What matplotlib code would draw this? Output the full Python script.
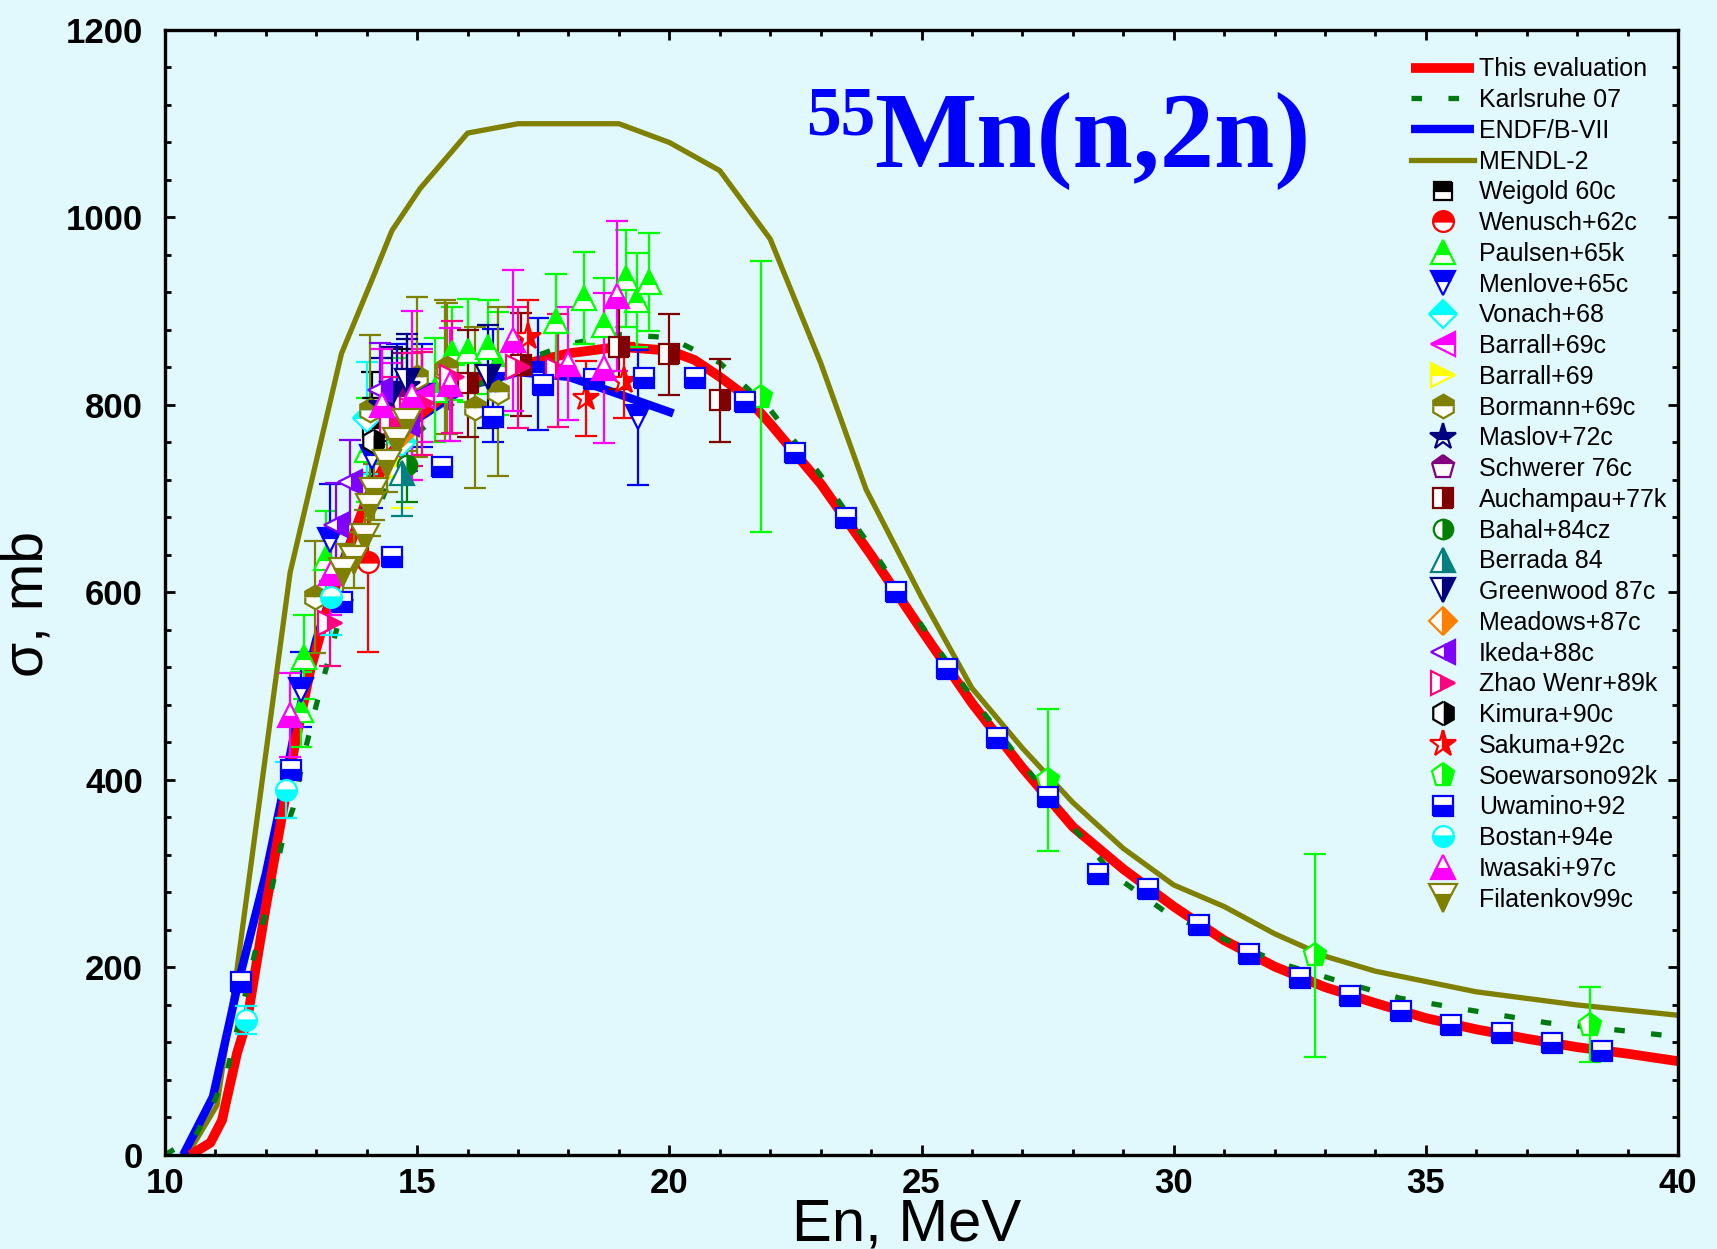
import numpy as np
from matplotlib import pyplot as plt
from matplotlib.ticker import MultipleLocator

plt.rcParams["font.family"] = ["Liberation Sans", "DejaVu Sans"]

BG = "#e1f9fc"

# evaluated curves
eval_E = [10.5, 10.9, 11.13, 11.43, 11.63, 12.0, 12.34, 12.58, 12.88, 13.2, 13.5, 14.0,
          14.5, 15.0, 15.5, 16.0, 17.0, 18.0, 19.0, 20.0, 20.5, 21.0, 21.5, 22.0, 23.0,
          24.0, 25.0, 26.0, 27.0, 28.0, 29.0, 30.0, 31.0, 32.0, 33.0, 34.0, 35.0, 36.0,
          37.0, 38.0, 39.0, 40.0]
eval_s = [0, 13, 37, 109, 144, 265, 368, 439, 517, 578, 625, 700,
          750, 787, 808, 825, 842, 855, 862, 858, 848, 830, 810, 780, 716,
          640, 560, 482, 413, 350, 305, 265, 229, 201, 179, 162, 146, 134,
          124, 115, 108, 100]

kit_E = [10.0, 10.6, 11.0, 11.23, 11.5, 11.77, 12.08, 12.34, 12.54, 12.78, 13.0, 13.5,
         14.0, 14.5, 15.0, 16.0, 17.0, 18.0, 19.0, 20.0, 21.0, 22.0, 23.0, 24.0, 25.0,
         26.0, 27.0, 28.0, 28.8, 29.87, 31.05, 32.2, 33.3, 34.5, 35.7, 37.4, 38.5, 40.0]
kit_s = [0, 20, 60, 89, 150, 213, 275, 338, 370, 432, 480, 580,
         660, 725, 770, 815, 845, 865, 875, 872, 845, 795, 725, 648, 565,
         488, 418, 350, 299, 258, 229, 203, 185, 167, 156, 141, 135, 126]

endf_E = [10.36, 10.95, 11.45, 12.0, 12.32, 12.6, 13.0, 13.5, 14.0, 14.5, 15.0, 16.0,
          17.0, 18.0, 18.76, 20.08]
endf_s = [0, 62, 183, 300, 382, 460, 550, 630, 700, 750, 785, 820,
          835, 830, 816, 791]

mendl_E = [10.44, 11.03, 11.39, 12.14, 12.48, 13.5, 14.1, 14.5, 15.06, 16.0, 17.0, 19.0,
           20.0, 21.0, 22.0, 23.0, 23.9, 25.0, 26.0, 27.0, 28.0, 29.0, 30.0, 31.0, 32.0,
           33.0, 34.0, 36.0, 38.0, 40.0]
mendl_s = [0, 53, 183, 485, 621, 855, 933, 986, 1031, 1090, 1100, 1100,
           1080, 1050, 977, 845, 710, 595, 498, 434, 376, 327, 288, 265, 236,
           212, 196, 174, 160, 149]

# experimental data
weigold_E = [14.1, 14.7]
weigold_s = [775, 800]
weigold_e = [60, 60]

wenusch_E = [14.02]
wenusch_s = [632]
wenusch_e = [95]

paulsen_E = [12.7, 12.75, 13.2, 14.0, 14.6, 15.35, 15.7, 16.0, 16.4, 16.6, 17.76, 18.3,
             18.7, 19.15, 19.35, 19.6]
paulsen_s = [475, 531, 637, 752, 790, 816, 855, 858, 862, 844, 890, 914, 885, 935, 912, 931]
paulsen_e = [40, 45, 50, 55, 60, 55, 50, 55, 50, 55, 50, 49, 50, 52, 50, 52]

menlove_E = [12.7, 13.27, 14.1, 14.6, 15.1, 16.5, 17.4, 19.38]
menlove_s = [496, 656, 745, 805, 810, 821, 833, 787]
menlove_e = [40, 60, 55, 60, 55, 60, 60, 72]

vonach_E = [14.0, 14.7]
vonach_s = [786, 760]
vonach_e = [60, 40]

barrall_c_E = [14.5, 15.1]
barrall_c_s = [795, 810]
barrall_c_e = [50, 50]

barrall_E = [14.7]
barrall_s = [735]
barrall_e = [45]

bormann_E = [12.97, 14.06, 15.0, 15.55, 15.6, 16.15, 16.6]
bormann_s = [595, 795, 830, 837, 839, 797, 814]
bormann_e = [60, 80, 85, 75, 70, 86, 90]

maslov_E = [14.3, 14.8]
maslov_s = [800, 820]
maslov_e = [50, 50]

schwerer_E = [14.7]
schwerer_s = [805]
schwerer_e = [50]

auchampau_E = [16.0, 17.05, 19.0, 20.0, 21.0]
auchampau_s = [823, 843, 862, 854, 805]
auchampau_e = [57, 55, 45, 43, 44]

bahal_E = [14.8]
bahal_s = [736]
bahal_e = [40]

berrada_E = [14.7]
berrada_s = [727]
berrada_e = [45]

greenwood_E = [14.5, 14.8, 16.4]
greenwood_s = [812, 826, 830]
greenwood_e = [50, 50, 55]

meadows_E = [14.7]
meadows_s = [770]
meadows_e = [40]

ikeda_E = [13.4, 13.66, 14.26, 14.8]
ikeda_s = [672, 718, 816, 780]
ikeda_e = [45, 45, 50, 50]

zhao_E = [13.27, 14.5, 14.9, 15.1, 15.7, 17.0, 17.8]
zhao_s = [567, 780, 795, 802, 830, 840, 837]
zhao_e = [45, 50, 60, 55, 60, 65, 60]

kimura_E = [14.13]
kimura_s = [762]
kimura_e = [45]

sakuma_E = [17.2, 18.35, 19.1]
sakuma_s = [872, 807, 826]
sakuma_e = [40, 40, 40]

soewarsono_E = [21.82, 27.5, 32.8, 38.26]
soewarsono_s = [809, 400, 213, 139]
soewarsono_e = [145, 76, 108, 40]

uwamino_E = [11.5, 12.5, 13.5, 14.5, 15.5, 16.5, 17.5, 18.5, 19.5, 20.5, 21.5, 22.5, 23.5,
             24.5, 25.5, 26.5, 27.5, 28.5, 29.5, 30.5, 31.5, 32.5, 33.5, 34.5, 35.5, 36.5,
             37.5, 38.5]
uwamino_s = [184, 411, 590, 638, 734, 787, 821, 828, 829, 829, 803, 749, 679,
             600, 518, 445, 382, 300, 284, 245, 214, 189, 170, 154, 139, 130,
             119, 111]

bostan_E = [11.6, 12.4, 13.3]
bostan_s = [144, 389, 595]
bostan_e = [15, 30, 40]

iwasaki_E = [12.47, 13.3, 14.3, 14.9, 15.65, 16.9, 18.0, 18.7, 18.96]
iwasaki_s = [469, 621, 800, 810, 822, 869, 844, 839, 916]
iwasaki_e = [45, 45, 60, 90, 60, 75, 60, 80, 80]

filatenkov_E = [13.52, 13.74, 13.96, 14.06, 14.15, 14.4, 14.6, 14.8]
filatenkov_s = [622, 635, 658, 690, 707, 737, 760, 781]
filatenkov_e = [30, 30, 30, 30, 30, 30, 30, 30]

# label, E, sigma, err, color, marker, fillstyle, size
datasets = [
    ("Weigold 60c", weigold_E, weigold_s, weigold_e, "black", "s", "top", 13),
    ("Wenusch+62c", wenusch_E, wenusch_s, wenusch_e, "red", "o", "top", 15),
    ("Paulsen+65k", paulsen_E, paulsen_s, paulsen_e, "#00ff00", "^", "top", 17),
    ("Menlove+65c", menlove_E, menlove_s, menlove_e, "blue", "v", "top", 17),
    ("Vonach+68", vonach_E, vonach_s, vonach_e, "cyan", "D", "top", 14),
    ("Barrall+69c", barrall_c_E, barrall_c_s, barrall_c_e, "magenta", "<", "top", 17),
    ("Barrall+69", barrall_E, barrall_s, barrall_e, "yellow", ">", "top", 17),
    ("Bormann+69c", bormann_E, bormann_s, bormann_e, "#808000", "h", "top", 17),
    ("Maslov+72c", maslov_E, maslov_s, maslov_e, "#000080", "*", "top", 20),
    ("Schwerer 76c", schwerer_E, schwerer_s, schwerer_e, "#800080", "p", "top", 17),
    ("Auchampau+77k", auchampau_E, auchampau_s, auchampau_e, "#800000", "s", "right", 15),
    ("Bahal+84cz", bahal_E, bahal_s, bahal_e, "#008000", "o", "right", 14),
    ("Berrada 84", berrada_E, berrada_s, berrada_e, "#008080", "^", "right", 17),
    ("Greenwood 87c", greenwood_E, greenwood_s, greenwood_e, "#000080", "v", "right", 17),
    ("Meadows+87c", meadows_E, meadows_s, meadows_e, "#ff8000", "D", "right", 14),
    ("Ikeda+88c", ikeda_E, ikeda_s, ikeda_e, "#8000ff", "<", "right", 17),
    ("Zhao Wenr+89k", zhao_E, zhao_s, zhao_e, "#ff0080", ">", "right", 17),
    ("Kimura+90c", kimura_E, kimura_s, kimura_e, "black", "h", "right", 17),
    ("Sakuma+92c", sakuma_E, sakuma_s, sakuma_e, "red", "*", "right", 20),
    ("Soewarsono92k", soewarsono_E, soewarsono_s, soewarsono_e, "#00ff00", "p", "right", 17),
    ("Uwamino+92", uwamino_E, uwamino_s, None, "blue", "s", "bottom", 15),
    ("Bostan+94e", bostan_E, bostan_s, bostan_e, "cyan", "o", "bottom", 15),
    ("Iwasaki+97c", iwasaki_E, iwasaki_s, iwasaki_e, "magenta", "^", "bottom", 17),
    ("Filatenkov99c", filatenkov_E, filatenkov_s, filatenkov_e, "#808000", "v", "bottom", 20),
]

fig = plt.figure(figsize=(17.17, 12.49), dpi=100, facecolor=BG)
ax = fig.add_axes([0.0961, 0.0753, 0.8812, 0.9007], facecolor=BG)

handles = []
labels = []

h, = ax.plot(eval_E, eval_s, color="red", lw=7, solid_capstyle="butt", zorder=2.4)
handles.append(h); labels.append("This evaluation")
h, = ax.plot(kit_E, kit_s, color="#007a10", lw=3.8, dashes=(2, 5), zorder=2.5)
handles.append(h); labels.append("Karlsruhe 07")
h, = ax.plot(endf_E, endf_s, color="blue", lw=6, solid_capstyle="butt", zorder=2.3)
handles.append(h); labels.append("ENDF/B-VII")
h, = ax.plot(mendl_E, mendl_s, color="#808000", lw=3.8, zorder=2.2)
handles.append(h); labels.append("MENDL-2")

for name, E, s, err, col, mk, fs, ms in datasets:
    if err is not None:
        ax.errorbar(E, s, yerr=err, fmt="none", ecolor=col, elinewidth=1.6,
                    capsize=8, capthick=1.6, zorder=3)
    h, = ax.plot(E, s, linestyle="none", marker=mk, ms=ms, mfc=col,
                 mfcalt="white", mec=col, mew=1.6, fillstyle=fs, zorder=4)
    handles.append(h)
    labels.append(name)

ax.set_xlim(10, 40)
ax.set_ylim(0, 1200)
ax.xaxis.set_major_locator(MultipleLocator(5))
ax.xaxis.set_minor_locator(MultipleLocator(1))
ax.yaxis.set_major_locator(MultipleLocator(200))
ax.yaxis.set_minor_locator(MultipleLocator(40))
ax.tick_params(which="both", direction="in", top=True, right=True, width=2)
ax.tick_params(which="major", length=7, labelsize=25, pad=9)
ax.tick_params(axis="y", which="major", pad=16)
ax.tick_params(which="minor", length=4)
for lab in ax.get_xticklabels() + ax.get_yticklabels():
    lab.set_fontweight("bold")
for sp in ax.spines.values():
    sp.set_linewidth(2.4)

ax.set_xlabel("En, MeV", fontsize=43)
ax.xaxis.set_label_coords(0.49, -0.038)
ax.xaxis.label.set_va("top")
ax.set_ylabel("σ, mb", fontsize=41)
ax.yaxis.set_label_coords(-0.073, 0.49)

ax.text(0.424, 0.907, "55", transform=ax.transAxes, fontsize=50, fontweight="bold",
        color="blue", family="Liberation Serif", va="baseline", ha="left")
ax.text(0.469, 0.878, "Mn(n,2n)", transform=ax.transAxes, fontsize=78, fontweight="bold",
        color="blue", family="Liberation Serif", va="baseline", ha="left")

ax.legend(handles, labels, loc="upper right", bbox_to_anchor=(1.011, 1.0), frameon=False,
          fontsize=18, handlelength=2.5, handletextpad=0.2, labelspacing=0.27,
          borderaxespad=0.7, numpoints=1)

plt.savefig("out.png", dpi=100, facecolor=BG)
